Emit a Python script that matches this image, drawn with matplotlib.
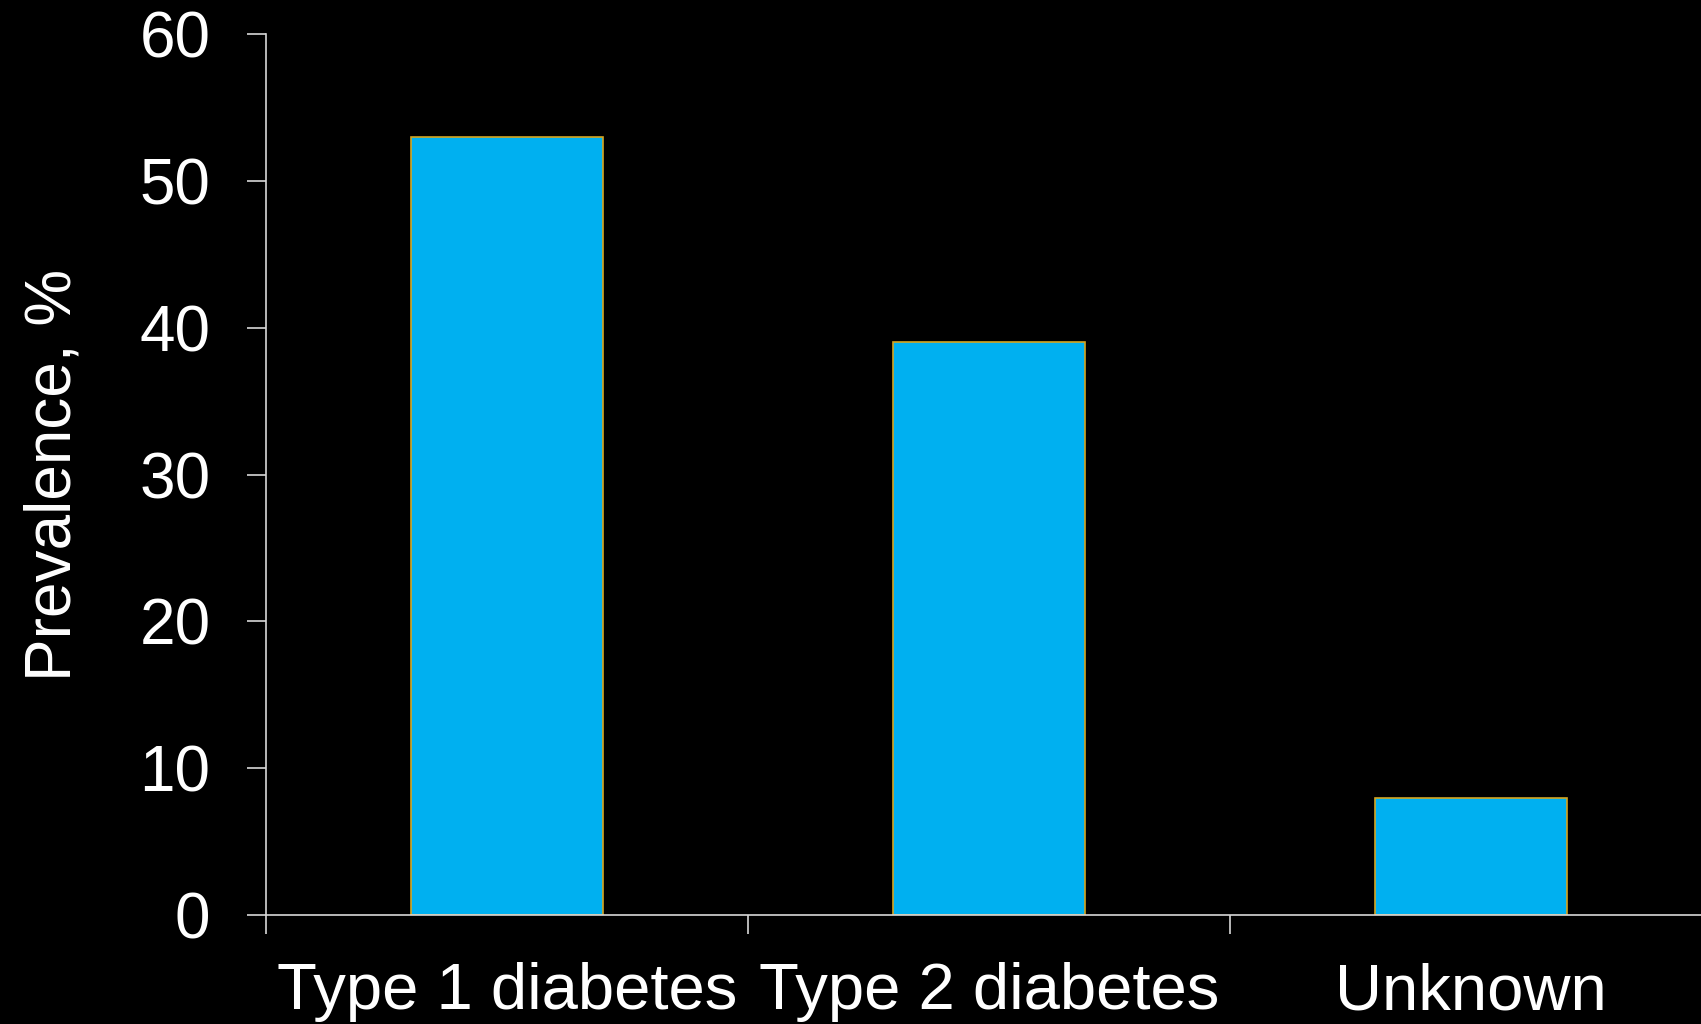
import matplotlib.pyplot as plt

categories = ["Type 1 diabetes", "Type 2 diabetes", "Unknown"]
prevalence = [53, 39, 8]
yticks = [0, 10, 20, 30, 40, 50, 60]

plt.rcParams["font.family"] = ["Liberation Sans", "DejaVu Sans"]

fig = plt.figure(figsize=(17.01, 10.24), dpi=100, facecolor="black")
# axes run slightly past the right edge of the figure
ax = fig.add_axes([0.1564, 0.1064, 0.850, 0.8604], facecolor="black")

x = range(len(categories))
ax.bar(x, prevalence, width=0.4, color="#00B0F0", edgecolor="#D4A520", linewidth=1.2, zorder=2)

ax.set_xlim(-0.5, len(categories) - 0.5)
ax.set_ylim(0, 60)
ax.set_yticks(yticks)
ax.set_xticks([i - 0.5 for i in x])
ax.set_xticklabels([])
ax.set_xticks(list(x), minor=True)
ax.set_xticklabels(categories, minor=True)

for side in ("top", "right"):
    ax.spines[side].set_visible(False)
for side in ("left", "bottom"):
    ax.spines[side].set_color("#d8d8d8")
    ax.spines[side].set_linewidth(1.2)

ax.tick_params(axis="y", which="major", direction="out", length=14, width=1.2,
               color="#d8d8d8", labelcolor="white", labelsize=46, pad=26)
ax.tick_params(axis="x", which="major", direction="out", length=14, width=1.2,
               color="#d8d8d8")
ax.tick_params(axis="x", which="minor", length=0, labelcolor="white", labelsize=47, pad=34)

ax.set_ylabel("Prevalence, %", color="white", fontsize=46, labelpad=40)

fig.savefig("out.png", dpi=100, facecolor="black")
